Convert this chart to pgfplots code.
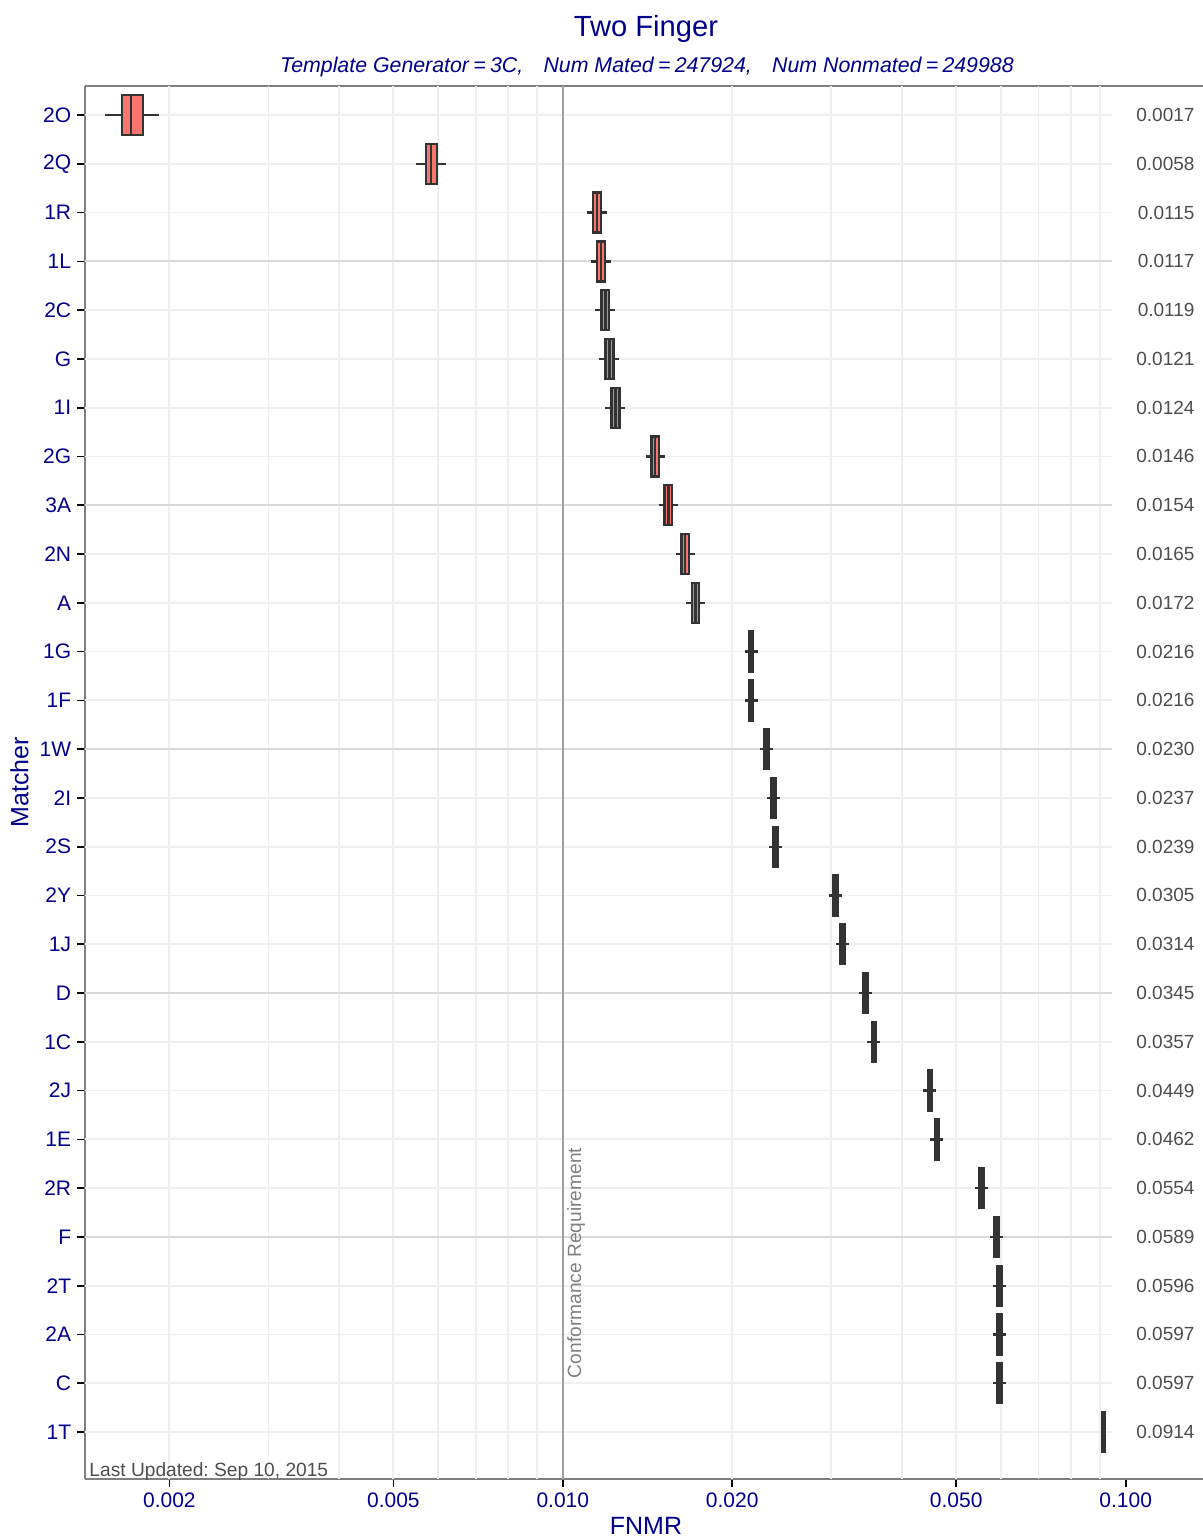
\documentclass[border=0pt]{standalone}
\usepackage{pgfplots}
\pgfplotsset{compat=1.18}
\usepgfplotslibrary{statistics}
\usepackage{fontspec}
\setmainfont{Liberation Sans}

\definecolor{dblue}{HTML}{00008B}
\definecolor{boxred}{HTML}{F8766D}
\definecolor{boxdark}{HTML}{333333}
\definecolor{txtgrey}{HTML}{4D4D4D}
\definecolor{axgrey}{HTML}{7F7F7F}
\definecolor{gridlight}{HTML}{EFEFEF}
\definecolor{griddark}{HTML}{D9D9D9}
\definecolor{confgrey}{HTML}{A0A0A0}

% right-hand median labels
\pgfplotstableread{
x y lab
0.1327 28 0.0017
0.1327 27 0.0058
0.1327 26 0.0115
0.1327 25 0.0117
0.1327 24 0.0119
0.1327 23 0.0121
0.1327 22 0.0124
0.1327 21 0.0146
0.1327 20 0.0154
0.1327 19 0.0165
0.1327 18 0.0172
0.1327 17 0.0216
0.1327 16 0.0216
0.1327 15 0.0230
0.1327 14 0.0237
0.1327 13 0.0239
0.1327 12 0.0305
0.1327 11 0.0314
0.1327 10 0.0345
0.1327 9 0.0357
0.1327 8 0.0449
0.1327 7 0.0462
0.1327 6 0.0554
0.1327 5 0.0589
0.1327 4 0.0596
0.1327 3 0.0597
0.1327 2 0.0597
0.1327 1 0.0914
}\medlabels

\pgfplotsset{
  bx/.style={fill=boxred, draw=boxdark, line width=1.4pt, solid},
}

\begin{document}
\begin{tikzpicture}
\begin{axis}[
  name=ax,
  scale only axis,
  width=670.8pt, height=835.8pt,
  xmode=log,
  xmin=0.001416, xmax=0.1372,
  ymin=0.0365, ymax=28.595,
  clip=false,
  axis x line*=box, axis y line*=left,
  axis line style={color=axgrey, line width=1pt},
  xtick={0.002,0.005,0.01,0.02,0.05,0.1},
  xticklabels={0.002,0.005,0.010,0.020,0.050,0.100},
  xminorticks=false,
  extra x ticks={0.002,0.003,0.004,0.005,0.006,0.007,0.008,0.009,0.02,0.03,0.04,0.05,0.06,0.07,0.08,0.09},
  extra x tick labels={},
  extra x tick style={grid=major, major tick length=0pt},
  major grid style={color=gridlight, line width=1.1pt},
  ytick={1,...,28},
  yticklabels={1T,C,2A,2T,F,2R,1E,2J,1C,D,1J,2Y,2S,2I,1W,1F,1G,A,2N,3A,2G,1I,G,2C,1L,1R,2Q,2O},
  xtick pos=left, ytick pos=left,
  tick align=outside,
  major tick length=4.8pt,
  tick style={color=black, line width=1pt},
  ticklabel style={font=\fontsize{12.6}{15}\selectfont, text=dblue},
  boxplot/draw direction=x,
  boxplot/box extend=0.82,
  boxplot/whisker extend=0,
]
% horizontal grid
\pgfplotsinvokeforeach{1,2,3,4,6,7,8,9,11,12,13,14,16,17,18,19,21,22,23,24,26,27,28}{
  \draw[gridlight, line width=1.1pt] (axis cs:0.001416,#1) -- (axis cs:0.0946,#1);
}
\pgfplotsinvokeforeach{5,10,15,20,25}{
  \draw[griddark, line width=1.3pt] (axis cs:0.001416,#1) -- (axis cs:0.0946,#1);
}
% conformance requirement
\addplot[confgrey, line width=1.5pt] coordinates {(0.01,0.0365) (0.01,28.595)};

\addplot[bx, boxplot prepared={draw position=28, lower whisker=0.001536, lower quartile=0.001647, median=0.00171, upper quartile=0.001795, upper whisker=0.001918}] coordinates {};
\addplot[bx, boxplot prepared={draw position=27, lower whisker=0.005490, lower quartile=0.005719, median=0.00584, upper quartile=0.005983, upper whisker=0.006208}] coordinates {};
\addplot[bx, boxplot prepared={draw position=26, lower whisker=0.011040, lower quartile=0.011314, median=0.0115, upper quartile=0.011689, upper whisker=0.011980}] coordinates {};
\addplot[bx, boxplot prepared={draw position=25, lower whisker=0.011232, lower quartile=0.011511, median=0.0117, upper quartile=0.011893, upper whisker=0.012188}] coordinates {};
\addplot[bx, boxplot prepared={draw position=24, lower whisker=0.011424, lower quartile=0.011707, median=0.0119, upper quartile=0.012096, upper whisker=0.012396}] coordinates {};
\addplot[bx, boxplot prepared={draw position=23, lower whisker=0.011616, lower quartile=0.011904, median=0.0121, upper quartile=0.012299, upper whisker=0.012605}] coordinates {};
\addplot[bx, boxplot prepared={draw position=22, lower whisker=0.011904, lower quartile=0.012199, median=0.0124, upper quartile=0.012604, upper whisker=0.012917}] coordinates {};
\addplot[bx, boxplot prepared={draw position=21, lower whisker=0.014045, lower quartile=0.014381, median=0.0146, upper quartile=0.014822, upper whisker=0.015177}] coordinates {};
\addplot[bx, boxplot prepared={draw position=20, lower whisker=0.014814, lower quartile=0.015169, median=0.0154, upper quartile=0.015634, upper whisker=0.016009}] coordinates {};
\addplot[bx, boxplot prepared={draw position=19, lower whisker=0.015872, lower quartile=0.016253, median=0.0165, upper quartile=0.016751, upper whisker=0.017153}] coordinates {};
\addplot[bx, boxplot prepared={draw position=18, lower whisker=0.016546, lower quartile=0.016942, median=0.0172, upper quartile=0.017462, upper whisker=0.017880}] coordinates {};
\addplot[bx, boxplot prepared={draw position=17, lower whisker=0.021034, lower quartile=0.021407, median=0.0216, upper quartile=0.021795, upper whisker=0.022181}] coordinates {};
\addplot[bx, boxplot prepared={draw position=16, lower whisker=0.021034, lower quartile=0.021407, median=0.0216, upper quartile=0.021795, upper whisker=0.022181}] coordinates {};
\addplot[bx, boxplot prepared={draw position=15, lower whisker=0.022398, lower quartile=0.022794, median=0.0230, upper quartile=0.023207, upper whisker=0.023618}] coordinates {};
\addplot[bx, boxplot prepared={draw position=14, lower whisker=0.023079, lower quartile=0.023488, median=0.0237, upper quartile=0.023914, upper whisker=0.024337}] coordinates {};
\addplot[bx, boxplot prepared={draw position=13, lower whisker=0.023274, lower quartile=0.023686, median=0.0239, upper quartile=0.024116, upper whisker=0.024543}] coordinates {};
\addplot[bx, boxplot prepared={draw position=12, lower whisker=0.029701, lower quartile=0.030227, median=0.0305, upper quartile=0.030775, upper whisker=0.031320}] coordinates {};
\addplot[bx, boxplot prepared={draw position=11, lower whisker=0.030578, lower quartile=0.031119, median=0.0314, upper quartile=0.031683, upper whisker=0.032244}] coordinates {};
\addplot[bx, boxplot prepared={draw position=10, lower whisker=0.033596, lower quartile=0.034192, median=0.0345, upper quartile=0.034811, upper whisker=0.035428}] coordinates {};
\addplot[bx, boxplot prepared={draw position=9, lower whisker=0.034765, lower quartile=0.035381, median=0.0357, upper quartile=0.036022, upper whisker=0.036660}] coordinates {};
\addplot[bx, boxplot prepared={draw position=8, lower whisker=0.043724, lower quartile=0.044499, median=0.0449, upper quartile=0.045305, upper whisker=0.046107}] coordinates {};
\addplot[bx, boxplot prepared={draw position=7, lower whisker=0.044990, lower quartile=0.045787, median=0.0462, upper quartile=0.046617, upper whisker=0.047442}] coordinates {};
\addplot[bx, boxplot prepared={draw position=6, lower whisker=0.053949, lower quartile=0.054905, median=0.0554, upper quartile=0.055900, upper whisker=0.056890}] coordinates {};
\addplot[bx, boxplot prepared={draw position=5, lower whisker=0.057357, lower quartile=0.058374, median=0.0589, upper quartile=0.059431, upper whisker=0.060484}] coordinates {};
\addplot[bx, boxplot prepared={draw position=4, lower whisker=0.058039, lower quartile=0.059067, median=0.0596, upper quartile=0.060138, upper whisker=0.061203}] coordinates {};
\addplot[bx, boxplot prepared={draw position=3, lower whisker=0.058136, lower quartile=0.059166, median=0.0597, upper quartile=0.060238, upper whisker=0.061305}] coordinates {};
\addplot[bx, boxplot prepared={draw position=2, lower whisker=0.058136, lower quartile=0.059166, median=0.0597, upper quartile=0.060238, upper whisker=0.061305}] coordinates {};
\addplot[bx, boxplot prepared={draw position=1, lower whisker=0.090842, lower quartile=0.090842, median=0.0914, upper quartile=0.091961, upper whisker=0.091961}] coordinates {};

% median values at the right
\addplot[draw=none, mark=none, nodes near coords, point meta=explicit symbolic,
  nodes near coords style={anchor=east, inner sep=0pt, font=\fontsize{11.4}{13}\selectfont, text=txtgrey}]
  table[x=x, y=y, meta=lab] {\medlabels};

% texts
\node[anchor=base, inner sep=0pt, xshift=1.2pt, yshift=29.4pt, font=\fontsize{17.5}{20}\selectfont, text=dblue] at (rel axis cs:0.5,1) {Two Finger};
\node[anchor=base, inner sep=0pt, xshift=1.8pt, yshift=7.8pt, font=\fontsize{12.8}{15}\selectfont\itshape, text=dblue] at (rel axis cs:0.5,1)
  {Template Generator\hspace{0.2em}=\hspace{0.2em}3C,\hspace{0.95em}Num Mated\hspace{0.2em}=\hspace{0.2em}247924,\hspace{0.95em}Num Nonmated\hspace{0.2em}=\hspace{0.2em}249988};
\node[anchor=base, inner sep=0pt, xshift=1.2pt, yshift=-33pt, font=\fontsize{15}{18}\selectfont, text=dblue] at (rel axis cs:0.5,0) {FNMR};
\node[anchor=south, rotate=90, inner sep=0pt, font=\fontsize{15}{18}\selectfont, text=dblue] at ([xshift=-33.6pt]rel axis cs:0,0.5) {Matcher};
\node[anchor=base west, inner sep=0pt, xshift=2.5pt, yshift=1.2pt, font=\fontsize{11.5}{13}\selectfont\frenchspacing, text=txtgrey] at (rel axis cs:0,0) {Last Updated: Sep 10, 2015};
\node[anchor=north west, rotate=90, inner sep=0pt, font=\fontsize{11.5}{13}\selectfont, text=axgrey] at ([xshift=2.4pt]axis cs:0.01,2.1) {Conformance Requirement};
\end{axis}
\pgfresetboundingbox
\path[use as bounding box] ([shift={(-51pt,-36.6pt)}]ax.south west) rectangle ([shift={(0pt,51.6pt)}]ax.north east);
\end{tikzpicture}
\end{document}
